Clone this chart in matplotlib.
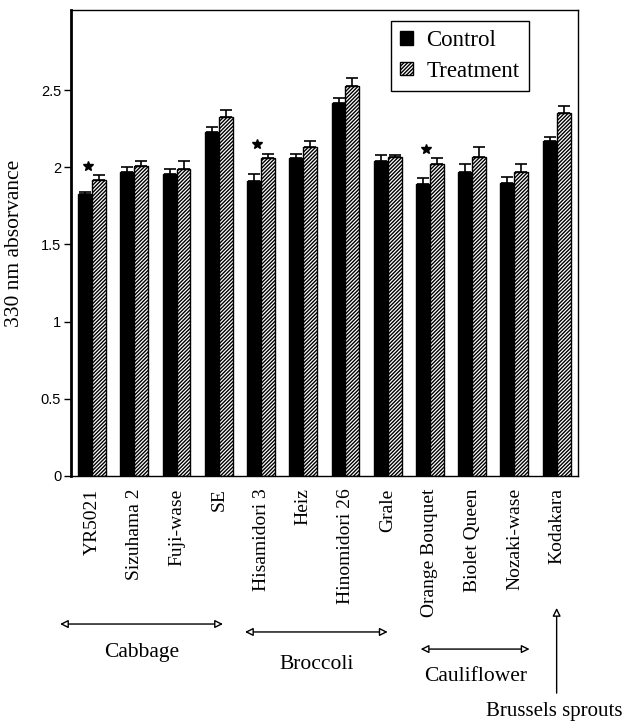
import numpy as np
import matplotlib
matplotlib.use("Agg")
import matplotlib.pyplot as plt
from matplotlib.patches import Patch

# cultivars and their 330 nm absorbance
cultivars = ["YR5021", "Sizuhama 2", "Fuji-wase", "SE", "Hisamidori 3", "Heiz",
             "Hinomidori 26", "Grale", "Orange Bouquet", "Biolet Queen",
             "Nozaki-wase", "Kodakara"]
control = [1.83, 1.97, 1.96, 2.23, 1.91, 2.06, 2.42, 2.04, 1.89, 1.97, 1.90, 2.17]
treatment = [1.92, 2.01, 1.99, 2.33, 2.06, 2.13, 2.53, 2.07, 2.02, 2.07, 1.97, 2.35]
control_err = [0.01, 0.03, 0.03, 0.03, 0.05, 0.03, 0.03, 0.04, 0.04, 0.05, 0.04, 0.03]
treatment_err = [0.03, 0.03, 0.05, 0.04, 0.03, 0.04, 0.05, 0.01, 0.04, 0.06, 0.05, 0.05]
significant = [True, False, False, False, True, False, False, False, True, False, False, False]

# vegetable groups: (name, first x, last x)
groups = ["Cabbage", "Broccoli", "Cauliflower"]
group_start = [-0.76, 3.62, 7.78]
group_end = [3.10, 7.00, 10.36]
single_group = "Brussels sprouts"
single_x = 11.0

serif = "Liberation Serif"
HATCH = "/////////"

plt.rcParams["hatch.linewidth"] = 1.0

fig = plt.figure(figsize=(6.28, 7.22), dpi=100)
ax = fig.add_axes([0.113, 0.341, 0.807, 0.645])

x = np.arange(len(cultivars))
w = 0.33

ax.bar(x - w / 2, control, w, color="black", edgecolor="black", linewidth=1,
       yerr=[np.zeros(len(x)), control_err], capsize=4.5,
       error_kw=dict(ecolor="black", elinewidth=1.2, capthick=1.2))
ax.bar(x + w / 2, treatment, w, color="white", edgecolor="black", linewidth=1,
       hatch=HATCH,
       yerr=[np.zeros(len(x)), treatment_err], capsize=4.5,
       error_kw=dict(ecolor="black", elinewidth=1.2, capthick=1.2))

# significance stars
for i, s in enumerate(significant):
    if s:
        ax.plot(x[i] - 0.1, treatment[i] + treatment_err[i] + 0.06, marker="*",
                color="black", markersize=7, linestyle="none")

ax.set_xlim(-0.5, 11.5)
ax.set_ylim(0, 3.02)
ax.set_yticks([0, 0.5, 1, 1.5, 2, 2.5])
ax.set_yticklabels(["0", "0.5", "1", "1.5", "2", "2.5"], fontsize=10.5,
                   family="Liberation Sans")
ax.tick_params(axis="y", length=5, width=1, pad=2)
ax.set_xticks(x)
ax.set_xticklabels(cultivars, rotation=90, fontsize=14, family=serif)
ax.tick_params(axis="x", length=0, pad=9)
for sp in ax.spines.values():
    sp.set_linewidth(1)
ax.spines["left"].set_linewidth(2)

ax.set_ylabel("330 nm absorvance", fontsize=15.5, family=serif)
ax.yaxis.set_label_coords(-0.092, 0.5)

handles = [Patch(facecolor="black", edgecolor="black"),
           Patch(facecolor="white", edgecolor="black", hatch=HATCH)]
leg = ax.legend(handles, ["Control", "Treatment"], loc="upper right",
                bbox_to_anchor=(0.903, 0.976), borderaxespad=0,
                prop={"family": serif, "size": 16.5},
                handlelength=0.55, handleheight=0.55, handletextpad=0.6,
                labelspacing=0.4, borderpad=0.4, fancybox=False, framealpha=1,
                edgecolor="black")
leg.get_frame().set_linewidth(1)

# group brackets below the tick labels
arrow_y = [0.1357, 0.1247, 0.101]
text_y = [0.0956, 0.079, 0.0637]
for name, x0, x1, ay, ty in zip(groups, group_start, group_end, arrow_y, text_y):
    ax.annotate("", xy=(x0, ay), xytext=(x1, ay),
                xycoords=("data", "figure fraction"),
                textcoords=("data", "figure fraction"),
                arrowprops=dict(arrowstyle="<|-|>", fc="white", ec="black",
                                lw=1, mutation_scale=12, shrinkA=0, shrinkB=0),
                annotation_clip=False)
    ax.annotate(name, xy=((x0 + x1) / 2, ty), xycoords=("data", "figure fraction"),
                ha="center", va="center", fontsize=15.5, family=serif,
                annotation_clip=False)

ax.annotate("", xy=(single_x, 0.158), xytext=(single_x, 0.040),
            xycoords=("data", "figure fraction"),
            textcoords=("data", "figure fraction"),
            arrowprops=dict(arrowstyle="-|>", fc="white", ec="black", lw=1,
                            mutation_scale=12, shrinkA=0, shrinkB=0),
            annotation_clip=False)
ax.annotate(single_group, xy=(single_x - 0.05, 0.0139),
            xycoords=("data", "figure fraction"),
            ha="center", va="center", fontsize=15, family=serif,
            annotation_clip=False)

fig.savefig("out.png", dpi=100)
